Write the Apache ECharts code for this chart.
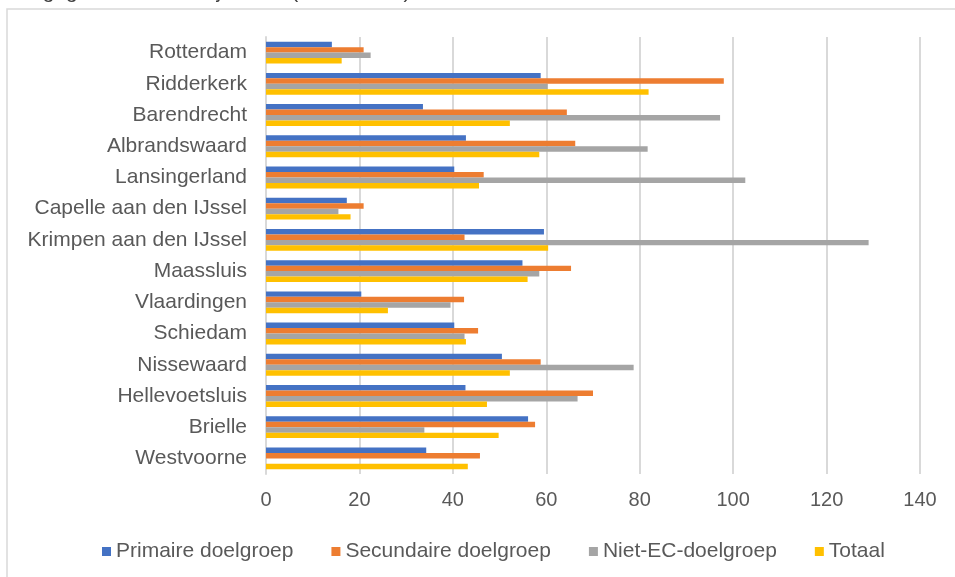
<!DOCTYPE html>
<html>
<head>
<meta charset="utf-8">
<script src="https://cdn.jsdelivr.net/npm/echarts@6/dist/echarts.min.js"></script>
<style>
  html, body { margin: 0; padding: 0; background: #fff; }
  #chart { width: 955px; height: 577px; }
</style>
</head>
<body>
<div id="chart"></div>
<script>
// Gemeenten, van boven naar beneden
const categories = ['Rotterdam', 'Ridderkerk', 'Barendrecht', 'Albrandswaard', 'Lansingerland',
  'Capelle aan den IJssel', 'Krimpen aan den IJssel', 'Maassluis', 'Vlaardingen', 'Schiedam',
  'Nissewaard', 'Hellevoetsluis', 'Brielle', 'Westvoorne'];

const primair   = [14.1, 58.8, 33.6, 42.8, 40.3, 17.3, 59.5, 54.9, 20.4, 40.3, 50.5, 42.7, 56.1, 34.3];
const secundair = [20.9, 98.0, 64.4, 66.2, 46.6, 20.9, 42.5, 65.3, 42.4, 45.4, 58.8, 70.0, 57.6, 45.8];
const nietEC    = [22.4, 60.3, 97.2, 81.7, 102.6, 15.5, 129.0, 58.5, 39.5, 42.5, 78.7, 66.7, 33.9, null];
const totaal    = [16.2, 81.9, 52.2, 58.5, 45.6, 18.1, 60.4, 56.0, 26.1, 42.8, 52.2, 47.3, 49.8, 43.2];

const seriesNames = ['Primaire doelgroep', 'Secundaire doelgroep', 'Niet-EC-doelgroep', 'Totaal'];
const xTicks = { min: 0, max: 140, interval: 20 };

const colors = ['#4472C4', '#ED7D31', '#A5A5A5', '#FFC000'];
const font = "'Liberation Sans', Arial, sans-serif";
const textColor = '#595959';

const chart = echarts.init(document.getElementById('chart'), null, { renderer: 'canvas' });

const values = [primair, secundair, nietEC, totaal];

chart.setOption({
  animation: false,
  color: colors,
  textStyle: { fontFamily: font },
  graphic: [
    {
      type: 'rect',
      shape: { x: 7, y: 9, width: 960, height: 600 },
      style: { fill: 'none', stroke: '#D9D9D9', lineWidth: 1.5 },
      silent: true
    },
    {
      type: 'text',
      left: 17,
      top: -18,
      style: {
        text: 'Uitgegeven kosten Rijnmond (x1000 euro)',
        fontSize: 21,
        fontFamily: font,
        fill: '#404040'
      },
      silent: true
    }
  ],
  legend: {
    data: seriesNames,
    left: 97,
    top: 536,
    icon: 'rect',
    itemWidth: 9,
    itemHeight: 9,
    itemGap: 38,
    textStyle: { fontSize: 21, color: textColor, fontFamily: font }
  },
  grid: { left: 266, right: 35, top: 37, bottom: 103 },
  xAxis: {
    type: 'value',
    min: xTicks.min,
    max: xTicks.max,
    interval: xTicks.interval,
    axisLine: { show: false },
    axisTick: { show: false },
    axisLabel: { color: textColor, fontSize: 20, fontFamily: font, margin: 16 },
    splitLine: { show: true, lineStyle: { color: '#D9D9D9', width: 2 } }
  },
  yAxis: {
    type: 'category',
    data: categories,
    inverse: true,
    axisLine: { show: true, lineStyle: { color: '#D9D9D9', width: 2 } },
    axisTick: { show: false },
    axisLabel: { color: textColor, fontSize: 21, fontFamily: font, margin: 19 }
  },
  series: seriesNames.map((name, i) => ({
    name: name,
    type: 'bar',
    data: values[i],
    barGap: '0%',
    barCategoryGap: '30%',
    itemStyle: { color: colors[i] }
  }))
});
</script>
</body>
</html>
